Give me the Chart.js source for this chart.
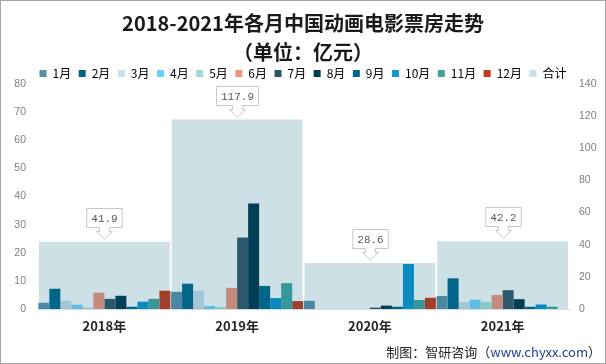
<!DOCTYPE html>
<html>
<head>
<meta charset="utf-8">
<script src="https://cdn.jsdelivr.net/npm/chart.js@4.4.1/dist/chart.umd.min.js"></script>
<style>
  html, body { margin: 0; padding: 0; background: #fff; }
  #wrap { position: relative; width: 606px; height: 364px; }
  #frame { position: absolute; left: 0; top: 0; width: 604px; height: 362px; border: 1px solid #a6a6a6; pointer-events: none; }
  #source { position: absolute; right: 5px; top: 342px; font: 13px "Noto Sans CJK SC", sans-serif; color: #262626; }
  #source span { color: #1f3f8f; }
</style>
</head>
<body>
<div id="wrap">
  <canvas id="myChart" width="606" height="364"></canvas>
  <div id="frame"></div>
  <div id="source">制图：智研咨询（<span>www.chyxx.com</span>）</div>
</div>
<script>
var years = ['2018年', '2019年', '2020年', '2021年'];
var months = ['1月', '2月', '3月', '4月', '5月', '6月', '7月', '8月', '9月', '10月', '11月', '12月'];

// monthly box office per year (亿元), one row per year
var y2018 = [2.2, 7.2, 2.9, 1.5, 0.5, 5.8, 3.6, 4.7, 0.8, 2.6, 3.6, 6.5];
var y2019 = [6.1, 9.0, 6.5, 1.1, 0.7, 7.5, 25.4, 37.5, 8.2, 3.9, 9.2, 2.8];
var y2020 = [2.9, null, null, null, null, null, 0.5, 1.2, 0.8, 16.0, 3.2, 4.0];
var y2021 = [4.6, 10.9, 2.5, 3.3, 2.5, 5.0, 6.7, 3.5, 0.8, 1.6, 0.8, null];
var totals = [41.9, 117.9, 28.6, 42.2];

var barColors = ['#4a87a3', '#006588', '#a3c6d8', '#5bbde3', '#8bc8c8', '#c48a7e',
                 '#2c586b', '#023f56', '#006688', '#0a8bc0', '#369898', '#a0402a'];
var legendColors = ['#5b8fa8', '#00637f', '#cce0e8', '#6dcff6', '#a0dad5', '#f0967a',
                    '#2f5466', '#003b4f', '#00668a', '#1598ce', '#42a39a', '#c53b1a', '#cce0e8'];
var totalColor = '#cce0e6';

var rows = [y2018, y2019, y2020, y2021];
var datasets = months.map(function(m, i) {
    return {
        label: m,
        data: rows.map(function(r) { return r[i]; }),
        backgroundColor: barColors[i],
        yAxisID: 'y',
        order: 0,
        categoryPercentage: 0.995,
        barPercentage: 1
    };
});
// 合计 sits behind the months, full category wide, on the right axis
datasets.push({
    label: '合计',
    data: totals,
    backgroundColor: totalColor,
    yAxisID: 'y2',
    order: 1,
    grouped: false,
    categoryPercentage: 1,
    barPercentage: 0.985
});

// callout boxes above the 合计 bars
var calloutPlugin = {
    id: 'callout',
    afterDatasetsDraw: function(chart) {
        var meta = chart.getDatasetMeta(12);
        var ctx = chart.ctx;
        ctx.save();
        ctx.font = '11px "Liberation Mono", monospace';
        meta.data.forEach(function(bar, i) {
            var txt = totals[i].toFixed(1);
            var w = ctx.measureText(txt).width + 9;
            var h = 19;
            var cx = Math.round(bar.x) + 0.5;
            var bottom = Math.round(bar.y) - 15 + 0.5;
            var top = bottom - h;
            ctx.beginPath();
            ctx.moveTo(cx - w / 2, top);
            ctx.lineTo(cx + w / 2, top);
            ctx.lineTo(cx + w / 2, bottom);
            ctx.lineTo(cx + 5, bottom);
            ctx.lineTo(cx + 5, bottom + 4);
            ctx.lineTo(cx + 8, bottom + 4);
            ctx.lineTo(cx, bottom + 11.5);
            ctx.lineTo(cx - 8, bottom + 4);
            ctx.lineTo(cx - 5, bottom + 4);
            ctx.lineTo(cx - 5, bottom);
            ctx.lineTo(cx - w / 2, bottom);
            ctx.closePath();
            ctx.fillStyle = '#ffffff';
            ctx.fill();
            ctx.strokeStyle = '#c8c8c8';
            ctx.lineWidth = 1;
            ctx.stroke();
            ctx.fillStyle = '#595959';
            ctx.textAlign = 'center';
            ctx.textBaseline = 'middle';
            ctx.fillText(txt, cx, top + h / 2 + 1);
        });
        ctx.restore();
    }
};

var legendFit = {
    id: 'legendFit',
    beforeInit: function(chart) {
        var fit = chart.legend.fit;
        chart.legend.fit = function() {
            fit.bind(chart.legend)();
            this.height = 24;
        };
    }
};

var tickFont = { family: '"Liberation Sans", sans-serif', size: 10.5 };

new Chart(document.getElementById('myChart'), {
    type: 'bar',
    data: { labels: years, datasets: datasets },
    plugins: [legendFit, calloutPlugin],
    options: {
        responsive: false,
        animation: false,
        layout: { padding: 0 },
        plugins: {
            tooltip: { enabled: false },
            title: {
                display: true,
                text: ['2018-2021年各月中国动画电影票房走势', '（单位：亿元）'],
                color: '#1a1a1a',
                font: { family: '"Noto Sans CJK SC", sans-serif', size: 20, weight: 'bold', lineHeight: 1.45 },
                padding: { top: 9, bottom: -7 }
            },
            legend: {
                display: true,
                labels: {
                    boxWidth: 7,
                    boxHeight: 7,
                    padding: 7.5,
                    color: '#404040',
                    font: { family: '"Noto Sans CJK SC", sans-serif', size: 12 },
                    generateLabels: function(chart) {
                        return chart.data.datasets.map(function(ds, i) {
                            return {
                                text: ds.label,
                                fillStyle: legendColors[i],
                                strokeStyle: legendColors[i],
                                lineWidth: 0,
                                hidden: false,
                                datasetIndex: i
                            };
                        });
                    }
                }
            }
        },
        scales: {
            x: {
                offset: true,
                grid: { display: false, drawTicks: false },
                border: { display: true, color: '#d9d9d9' },
                ticks: {
                    color: '#262626',
                    padding: 9,
                    font: { family: '"Noto Sans CJK SC", sans-serif', size: 13, weight: 'bold' }
                },
                afterFit: function(s) { s.height = 55; }
            },
            y: {
                position: 'left',
                min: 0,
                max: 80,
                ticks: { stepSize: 10, color: '#7f7f7f', padding: 12, font: tickFont },
                grid: { display: false, drawTicks: false },
                border: { display: false },
                afterFit: function(s) { s.width = 38; }
            },
            y2: {
                position: 'right',
                min: 0,
                max: 140,
                ticks: { stepSize: 20, color: '#7f7f7f', padding: 10, font: tickFont },
                grid: { display: false, drawTicks: false },
                border: { display: false },
                afterFit: function(s) { s.width = 37; }
            }
        }
    }
});
</script>
</body>
</html>
